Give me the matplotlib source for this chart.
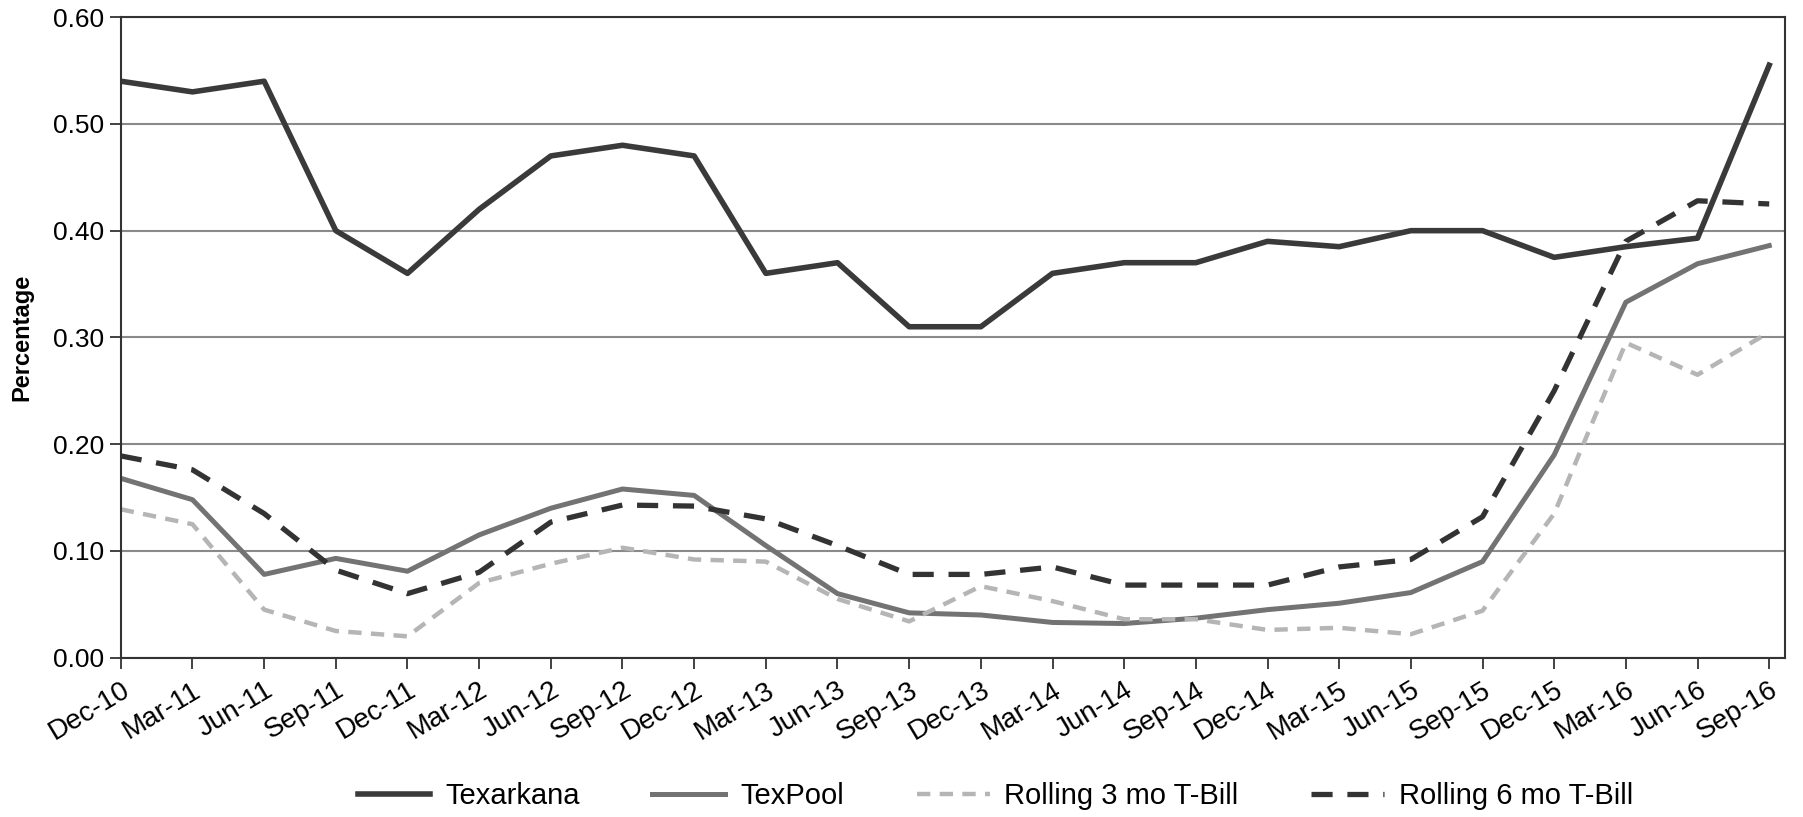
import matplotlib
matplotlib.use("Agg")
import matplotlib.pyplot as plt
from matplotlib.transforms import ScaledTranslation

plt.rcParams['font.family'] = ['Liberation Sans', 'DejaVu Sans']

dates = ["Dec-10", "Mar-11", "Jun-11", "Sep-11", "Dec-11", "Mar-12", "Jun-12", "Sep-12",
         "Dec-12", "Mar-13", "Jun-13", "Sep-13", "Dec-13", "Mar-14", "Jun-14", "Sep-14",
         "Dec-14", "Mar-15", "Jun-15", "Sep-15", "Dec-15", "Mar-16", "Jun-16", "Sep-16"]

texarkana = [0.540, 0.530, 0.540, 0.400, 0.360, 0.420, 0.470, 0.480, 0.470, 0.360, 0.370, 0.310,
             0.310, 0.360, 0.370, 0.370, 0.390, 0.385, 0.400, 0.400, 0.375, 0.385, 0.393, 0.555]
texpool = [0.168, 0.148, 0.078, 0.093, 0.081, 0.115, 0.140, 0.158, 0.152, 0.105, 0.060, 0.042,
           0.040, 0.033, 0.032, 0.037, 0.045, 0.051, 0.061, 0.090, 0.190, 0.333, 0.369, 0.386]
tbill_6mo = [0.189, 0.176, 0.135, 0.082, 0.060, 0.080, 0.127, 0.143, 0.142, 0.130, 0.105, 0.078,
             0.078, 0.085, 0.068, 0.068, 0.068, 0.085, 0.092, 0.132, 0.250, 0.390, 0.428, 0.425]
tbill_3mo = [0.139, 0.125, 0.045, 0.025, 0.020, 0.070, 0.088, 0.103, 0.092, 0.090, 0.055, 0.034,
             0.067, 0.053, 0.036, 0.036, 0.026, 0.028, 0.022, 0.044, 0.135, 0.295, 0.265, 0.305]

yticks = [0.0, 0.1, 0.2, 0.3, 0.4, 0.5, 0.6]

fig = plt.figure(figsize=(18.03, 8.17), dpi=100)
ax = fig.add_axes([0.067, 0.195, 0.923, 0.784])

x = list(range(len(dates)))
ax.plot(x, texarkana, color='#3a3a3a', lw=4.0, label='Texarkana')
ax.plot(x, texpool, color='#737373', lw=3.6, label='TexPool')
ax.plot(x, tbill_3mo, color='#b5b5b5', lw=3.2, dashes=(3.0, 2.1), label='Rolling 3 mo T-Bill')
ax.plot(x, tbill_6mo, color='#333333', lw=3.8, dashes=(4.0, 2.8), label='Rolling 6 mo T-Bill')

ax.set_xlim(0, len(dates) - 1 + 0.22)
ax.set_ylim(0, 0.6)
ax.set_yticks(yticks)
ax.set_yticklabels([f"{v:.2f}" for v in yticks], fontsize=19)
ax.set_xticks(x)
ax.set_xticklabels(dates, fontsize=20, rotation=31, ha='right', rotation_mode='anchor')
offset = ScaledTranslation(10 / 100, 0, fig.dpi_scale_trans)
for lbl in ax.get_xticklabels():
    lbl.set_transform(lbl.get_transform() + offset)
ax.tick_params(axis='x', length=8, width=1.3, color='#333333', pad=6)
ax.tick_params(axis='y', length=8, width=1.3, color='#333333', pad=4)

ax.yaxis.grid(True, color='#8a8a8a', lw=1.5)
ax.set_axisbelow(True)
for s in ax.spines.values():
    s.set_color('#333333')
    s.set_linewidth(1.5)

ax.set_ylabel('Percentage', fontsize=17, fontweight='bold', labelpad=14)

fig.legend(loc='center', bbox_to_anchor=(0.552, 0.026), ncol=4, frameon=False,
           fontsize=21, handlelength=2.5, columnspacing=2.5, handletextpad=0.5)

fig.savefig('out.png', dpi=100)
